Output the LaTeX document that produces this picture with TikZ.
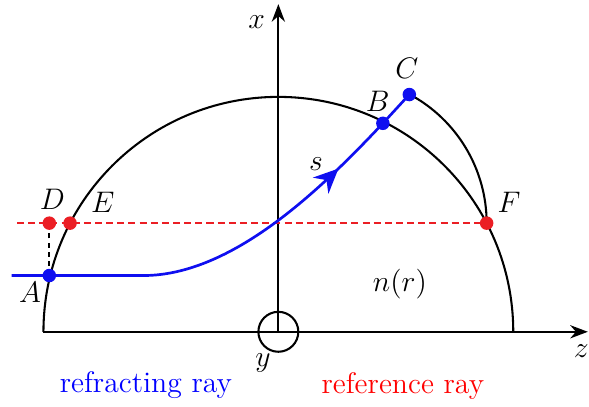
\documentclass[tikz,border=0pt]{standalone}
\usepackage{amsmath}
\usetikzlibrary{arrows.meta,decorations.markings}
\definecolor{rojo}{RGB}{235,30,36}
\definecolor{azul}{RGB}{15,15,240}

\begin{document}
\begin{tikzpicture}[line width=1pt,>={Stealth[length=3mm]},font=\Large,
  rayo/.style={azul,line width=1.3pt},
  referencia/.style={rojo,line width=1.1pt,dash pattern=on 3.4pt off 2pt}]
  \useasboundingbox (-4.74,-1.28) rectangle (5.29,5.65);
  % puntos
  \coordinate (O) at (0,0);
  \coordinate (A) at (-3.90,0.958);
  \coordinate (D) at (-3.90,1.85);
  \coordinate (E) at (-3.547,1.85);
  \coordinate (F) at (3.547,1.85);
  \coordinate (B) at (1.78,3.55);
  \coordinate (C) at (2.23,4.04);
  \coordinate (R0) at (-4.54,0.958);
  \coordinate (R1) at (-2.3,0.958);
  \coordinate (L0) at (-4.45,1.85);
  \coordinate (zfin) at (5.27,0);
  \coordinate (xfin) at (0,5.58);
  % ejes
  \draw[->] (-4,0) -- (zfin);
  \draw[->] (O) -- (xfin);
  \draw (O) circle (0.34);
  \node (zlab) at (5.16,-0.33) {$z$};
  \node (xlab) at (-0.37,5.28) {$x$};
  \node (ylab) at (-0.26,-0.53) {$y$};
  % medio n(r)
  \draw (4,0) arc (0:180:4);
  \node (nr) at (2.07,0.82) {$n(r)$};
  % rayo de referencia
  \draw[referencia] (L0) -- (F);
  \draw[dash pattern=on 2.5pt off 2pt] (A) -- (D);
  % rayo refractado
  \draw[rayo,decoration={markings,mark=at position 0.85 with {\arrow{Stealth[length=4.2mm,width=3.8mm]}}},postaction={decorate}]
    (R0) -- (R1) .. controls (-0.8,0.958) and (0.7,2.4) .. (B);
  \draw[rayo] (B) -- (C);
  \draw (F) arc (0:61.7:2.49);
  \node (slab) at (0.64,2.86) {$s$};
  % puntos marcados
  \fill[azul] (A) circle (0.115) (B) circle (0.115) (C) circle (0.115);
  \fill[rojo] (D) circle (0.115) (E) circle (0.115) (F) circle (0.115);
  \node (Alab) at (-4.23,0.68) {$A$};
  \node (Dlab) at (-3.85,2.25) {$D$};
  \node (Elab) at (-2.99,2.21) {$E$};
  \node (Flab) at (3.93,2.2) {$F$};
  \node (Blab) at (1.69,3.93) {$B$};
  \node (Clab) at (2.19,4.48) {$C$};
  % leyenda
  \node[blue] (refr) at (-2.255,-0.9) {refracting ray};
  \node[red] (refe) at (2.12,-0.93) {reference ray};
\end{tikzpicture}
\end{document}
